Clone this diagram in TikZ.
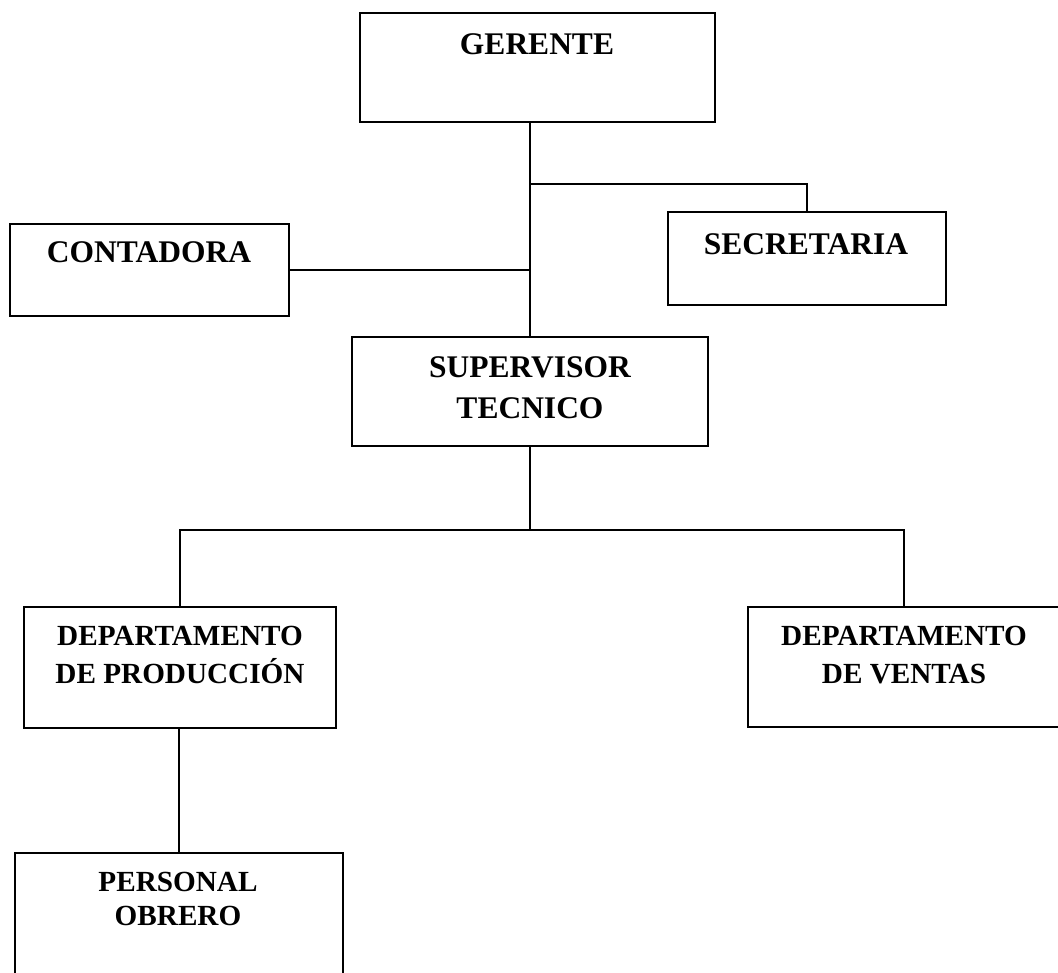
\documentclass[tikz,border=0pt]{standalone}
\usepackage{fontspec}
\setmainfont{Liberation Serif}
\begin{document}
\begin{tikzpicture}[x=1pt,y=-1pt,
  box/.style={draw=black,line width=1.9pt,rectangle,inner sep=0pt},
  big/.style={anchor=base,inner sep=0pt,font=\fontsize{31.5}{36}\selectfont\bfseries},
  small/.style={anchor=base,inner sep=0pt,font=\fontsize{29.2}{34}\selectfont\bfseries},
  conn/.style={draw=black,line width=1.6pt}]
\useasboundingbox (0,0) rectangle (1058,973);
\clip (0,0) rectangle (1058,973);
% boxes
\node[box,minimum width=355pt,minimum height=109pt] (ger) at (537.5,67.5) {};
\node[box,minimum width=279pt,minimum height=92pt] (cont) at (149.5,270) {};
\node[box,minimum width=278pt,minimum height=93pt] (sec) at (807,258.5) {};
\node[box,minimum width=356pt,minimum height=109pt] (sup) at (530,391.5) {};
\node[box,minimum width=312pt,minimum height=121pt] (dprod) at (180,667.5) {};
\node[box,minimum width=312pt,minimum height=120pt] (dven) at (904,667) {};
\node[box,minimum width=328pt,minimum height=130pt] (pers) at (179,918) {};
% texts
\node[big] (tger) at (537,55) {GERENTE};
\node[big] (tcont) at (149,263) {CONTADORA};
\node[big] (tsec) at (806,255) {SECRETARIA};
\node[big] (tsup1) at (530,378) {SUPERVISOR};
\node[big] (tsup2) at (530,419) {TECNICO};
\node[small] (tdp1) at (180,645) {DEPARTAMENTO};
\node[small] (tdp2) at (180,683) {DE PRODUCCIÓN};
\node[small] (tdv1) at (904,645) {DEPARTAMENTO};
\node[small] (tdv2) at (904,683) {DE VENTAS};
\node[small] (tpe1) at (178,891) {PERSONAL};
\node[small] (tpe2) at (178,925) {OBRERO};
% junctions
\coordinate (j1) at (530,184);
\coordinate (j2) at (530,530);
% connectors
\draw[conn] (sup.north |- ger.south) -- (sup.north);
\draw[conn] (j1) -- (j1 -| sec.north) -- (sec.north);
\draw[conn] (cont.east) -- (cont.east -| sup.north);
\draw[conn] (sup.south) -- (j2);
\draw[conn] (dprod.north) -- (j2 -| dprod.north) -- (j2 -| dven.north) -- (dven.north);
\draw[conn] (dprod.south) -- (dprod.south -| pers.north) -- (pers.north);
\end{tikzpicture}
\end{document}
